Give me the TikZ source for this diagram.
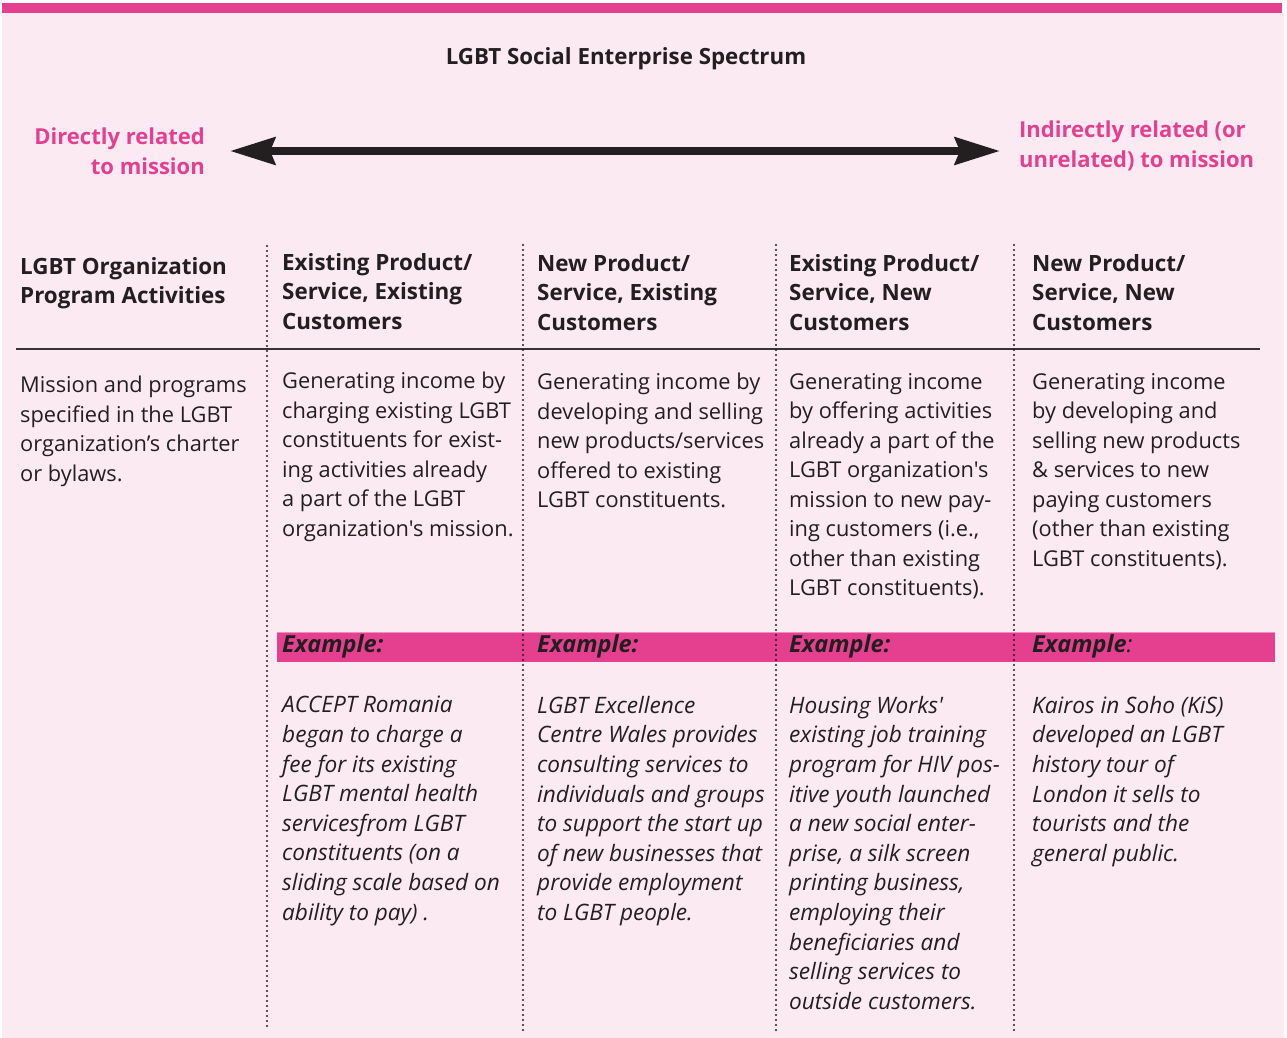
\documentclass[tikz,border=0pt]{standalone}
\usepackage{fontspec}
\setmainfont{Open Sans}[Ligatures=TeXOff]
\usetikzlibrary{arrows.meta}
\definecolor{bgpink}{HTML}{FBEAF1}
\definecolor{barpink}{HTML}{E4408F}
\definecolor{ink}{HTML}{231F20}
\tikzset{
	txt/.style={anchor=north west,inner sep=0pt,align=left,text=ink,font=\fontsize{21.8}{29.5}\selectfont},
	head/.style={txt,font=\fontsize{22.4}{29.5}\selectfont\bfseries},
	expl/.style={txt,font=\fontsize{22.6}{29.6}\selectfont\itshape},
	lab/.style={anchor=west,inner sep=0pt,text=ink,font=\fontsize{23.5}{25}\selectfont\bfseries\itshape},
	pinktxt/.style={inner sep=0pt,text=barpink,font=\fontsize{22}{29.5}\selectfont\bfseries},
	sep/.style={ink,line width=2.2pt,line cap=round,dash pattern=on 0pt off 5pt},
	spectrum/.style={ink,line width=8pt,{Stealth[length=45pt,width=27pt,inset=5pt]}-{Stealth[length=45pt,width=27pt,inset=5pt]}},
}
\begin{document}
\begin{tikzpicture}[x=1pt,y=-1pt]
	\useasboundingbox (0,0) rectangle (1287,1038);
	\fill[bgpink] (2,13) rectangle (1284,1038);
	\fill[barpink] (2,3) rectangle (1282,13);
	
	\node[inner sep=0pt,text=ink,font=\fontsize{22.3}{25}\selectfont\bfseries] (title) at (626,59) {LGBT Social Enterprise Spectrum};
	\node[pinktxt,anchor=east,align=right] (direct) at (205,151) {Directly related\\to mission};
	\node[pinktxt,anchor=west,align=left] (indirect) at (1019,146) {Indirectly related (or\\unrelated) to mission};
	\draw[spectrum,shorten <=25pt,shorten >=19pt] (direct.east) -- (direct.east -| indirect.west);
	
	\node[head] (h0) at (20,257) {LGBT Organization\\Program Activities};
	\node[head] (h1) at (282,253) {Existing Product/\\Service, Existing\\Customers};
	\node[head] (h2) at (537,254) {New Product/\\Service, Existing\\Customers};
	\node[head] (h3) at (789,254) {Existing Product/\\Service, New\\Customers};
	\node[head] (h4) at (1032,254) {New Product/\\Service, New\\Customers};
	\draw[ink!90,line width=2pt] (16,349) -- (1260,349);
	
	\node[txt] (b0) at (20,376) {Mission and programs\\specified in the LGBT\\organization’s charter\\or bylaws.};
	\node[txt] (b1) at (282,372) {Generating income by\\charging existing LGBT\\constituents for exist-\\ing activities already\\a part of the LGBT\\organization's mission.};
	\node[txt] (b2) at (537,373) {Generating income by\\developing and selling\\new products/services\\offered to existing\\LGBT constituents.};
	\node[txt] (b3) at (789,373) {Generating income\\by offering activities\\already a part of the\\LGBT organization's\\mission to new pay-\\ing customers (i.e.,\\other than existing\\LGBT constituents).};
	\node[txt] (b4) at (1032,373) {Generating income\\by developing and\\selling new products\\\& services to new\\paying customers\\(other than existing\\LGBT constituents).};
	
	\fill[barpink] (277,632) rectangle (1275,662);
	\draw[barpink!60,line width=0.8pt] (277,632) -- (1275,632);
	\node[lab] (x1) at (282,646) {Example:};
	\node[lab] (x2) at (537,646) {Example:};
	\node[lab] (x3) at (789,646) {Example:};
	\node[lab] (x4) at (1032,646) {Example\textmd{:}};
	
	\node[expl] (e1) at (282,696) {ACCEPT Romania\\began to charge a\\fee for its existing\\LGBT mental health\\servicesfrom LGBT\\constituents (on a\\sliding scale based on\\ability to pay) .};
	\node[expl] (e2) at (537,696) {LGBT Excellence\\Centre Wales provides\\consulting services to\\individuals and groups\\to support the start up\\of new businesses that\\provide employment\\to LGBT people.};
	\node[expl] (e3) at (789,696) {Housing Works'\\existing job training\\program for HIV pos-\\itive youth launched\\a new social enter-\\prise, a silk screen\\printing business,\\employing their\\beneficiaries and\\selling services to\\outside customers.};
	\node[expl] (e4) at (1032,696) {Kairos in Soho (KiS)\\developed an LGBT\\history tour of\\London it sells to\\tourists and the\\general public.};
	
	\draw[sep] (267,246) -- (267,1028);
	\draw[sep] (523,245) -- (523,1030);
	\draw[sep] (776,245) -- (776,1030);
	\draw[sep] (1014,245) -- (1014,1033);
\end{tikzpicture}
\end{document}
